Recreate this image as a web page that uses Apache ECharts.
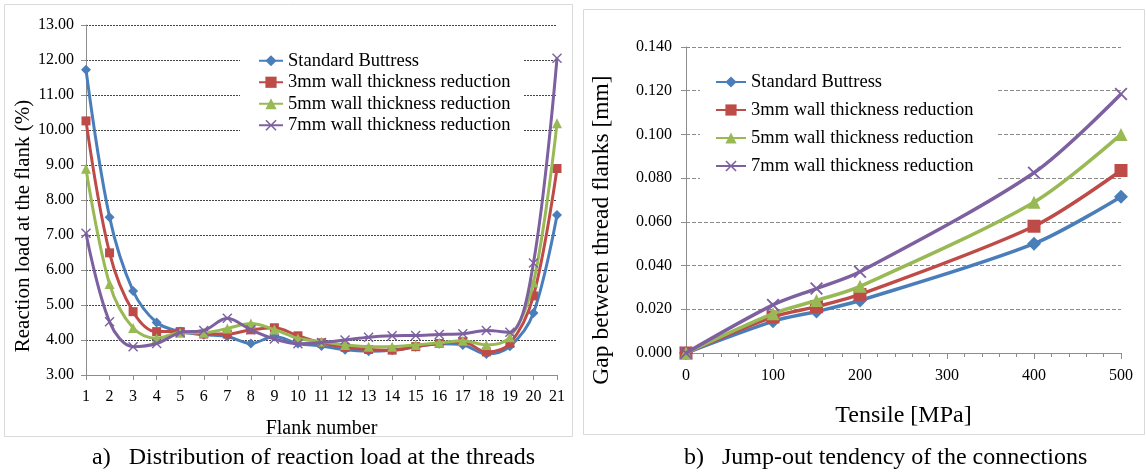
<!DOCTYPE html>
<html>
<head>
<meta charset="utf-8">
<script src="https://cdn.jsdelivr.net/npm/echarts@6/dist/echarts.min.js"></script>
<style>
  html, body { margin: 0; padding: 0; background: #fff; }
  #main { width: 1146px; height: 473px; }
</style>
</head>
<body>
<div id="main"></div>
<script>
// ---- data: a) reaction load per flank ----
var flanks = [1,2,3,4,5,6,7,8,9,10,11,12,13,14,15,16,17,18,19,20,21];
var loadStd = [11.72,7.51,5.40,4.50,4.24,4.15,4.10,3.90,4.10,3.90,3.83,3.72,3.68,3.71,3.81,3.89,3.86,3.60,3.82,4.77,7.57];
var load3mm = [10.26,6.49,4.81,4.24,4.24,4.17,4.17,4.29,4.35,4.12,3.92,3.79,3.73,3.71,3.81,3.90,3.95,3.66,3.90,5.26,8.90];
var load5mm = [8.89,5.60,4.34,4.05,4.21,4.21,4.33,4.47,4.30,4.05,3.95,3.86,3.81,3.81,3.86,3.92,3.98,3.86,4.08,5.64,10.19];
var load7mm = [7.05,4.52,3.81,3.90,4.21,4.27,4.62,4.29,4.03,3.89,3.93,4.00,4.08,4.12,4.13,4.16,4.18,4.27,4.22,6.20,12.05];

// ---- data: b) gap between thread flanks vs tensile ----
var tensile = [0,100,150,200,400,500];
var gapStd = [0,0.0145,0.0190,0.0240,0.0500,0.0715];
var gap3mm = [0,0.0165,0.0212,0.0268,0.0580,0.0835];
var gap5mm = [0,0.0180,0.0240,0.0305,0.0690,0.1000];
var gap7mm = [0,0.0220,0.0295,0.0372,0.0825,0.1185];

var seriesNames = ['Standard Buttress','3mm wall thickness reduction','5mm wall thickness reduction','7mm wall thickness reduction'];
var colors = ['#4a7ebb','#be4b48','#98b954','#7d60a0'];
var crossPath = 'path://M0,1 L1,0 L5,4 L9,0 L10,1 L6,5 L10,9 L9,10 L5,6 L1,10 L0,9 L4,5 Z';
var symbols = ['diamond','rect','triangle',crossPath];

function pairs(xs, ys) {
  return xs.map(function (x, i) { return [x, ys[i]]; });
}

var serif = 'Liberation Serif';
var axisGray = '#8c8c8c';

var chart = echarts.init(document.getElementById('main'));

var loadSets = [loadStd, load3mm, load5mm, load7mm];
var gapSets = [gapStd, gap3mm, gap5mm, gap7mm];
var series = [];
loadSets.forEach(function (d, i) {
  series.push({
    name: seriesNames[i], type: 'line', xAxisIndex: 0, yAxisIndex: 0,
    data: pairs(flanks, d), smooth: 0.35,
    symbol: symbols[i], symbolSize: i === 1 ? 9 : 10,
    lineStyle: { width: 3, color: colors[i] },
    itemStyle: { color: colors[i] },
    z: 3 + i
  });
});
gapSets.forEach(function (d, i) {
  series.push({
    name: seriesNames[i], type: 'line', xAxisIndex: 1, yAxisIndex: 1,
    data: pairs(tensile, d), smooth: 0.3,
    symbol: symbols[i], symbolSize: i === 0 ? 14 : 13,
    lineStyle: { width: 3.5, color: colors[i] },
    itemStyle: { color: colors[i] },
    z: 3 + i
  });
});

var option = {
  animation: false,
  textStyle: { fontFamily: serif, color: '#000' },
  graphic: [
    { type: 'rect', shape: { x: 4.5, y: 4.5, width: 568, height: 432 }, style: { fill: 'none', stroke: '#d9d9d9', lineWidth: 1 }, z: -1 },
    { type: 'rect', shape: { x: 583.5, y: 9.5, width: 561, height: 425 }, style: { fill: 'none', stroke: '#d9d9d9', lineWidth: 1 }, z: -1 },
    { type: 'text', left: 92, top: 446, style: { text: 'a)   Distribution of reaction load at the threads', font: '24px "Liberation Serif"', fill: '#000' } },
    { type: 'text', left: 684, top: 446, style: { text: 'b)   Jump-out tendency of the connections', font: '24px "Liberation Serif"', fill: '#000' } }
  ],
  legend: [
    {
      data: seriesNames, left: 240, top: 46, orient: 'vertical',
      padding: [4, 13, 8, 18], itemGap: 0, itemWidth: 24, itemHeight: 14,
      backgroundColor: '#fff',
      textStyle: { fontFamily: serif, fontSize: 18.5, color: '#000', lineHeight: 21.5 }
    },
    {
      data: seriesNames, left: 700, top: 62, orient: 'vertical',
      padding: [9, 24, 12, 15], itemGap: 6, itemWidth: 30, itemHeight: 14,
      backgroundColor: '#fff',
      textStyle: { fontFamily: serif, fontSize: 18.5, color: '#000', lineHeight: 22 }
    }
  ],
  grid: [
    { left: 86, right: 589, top: 25, bottom: 98 },
    { left: 686, right: 25, top: 47, bottom: 120 }
  ],
  xAxis: [
    {
      gridIndex: 0, type: 'value', min: 1, max: 21, interval: 1,
      name: 'Flank number', nameLocation: 'middle', nameGap: 44,
      nameTextStyle: { fontFamily: serif, fontSize: 20, color: '#000' },
      axisLine: { lineStyle: { color: axisGray } },
      axisTick: { length: 5, lineStyle: { color: axisGray } },
      axisLabel: { fontFamily: serif, fontSize: 16, color: '#000', margin: 14 },
      splitLine: { show: false }
    },
    {
      gridIndex: 1, type: 'value', min: 0, max: 500, interval: 100,
      name: 'Tensile [MPa]', nameLocation: 'middle', nameGap: 51,
      nameTextStyle: { fontFamily: serif, fontSize: 24, color: '#000' },
      axisLine: { lineStyle: { color: axisGray } },
      axisTick: { length: 6, lineStyle: { color: axisGray } },
      minorTick: { show: true, splitNumber: 5, length: 4, lineStyle: { color: axisGray } },
      axisLabel: { fontFamily: serif, fontSize: 16, color: '#000', margin: 15 },
      splitLine: { show: false }
    }
  ],
  yAxis: [
    {
      gridIndex: 0, type: 'value', min: 3, max: 13, interval: 1,
      name: 'Reaction load at the flank (%)', nameLocation: 'middle', nameGap: 52,
      nameTextStyle: { fontFamily: serif, fontSize: 21, color: '#000', padding: [0, 52, 0, 0] },
      axisLine: { show: true, lineStyle: { color: axisGray } },
      axisTick: { show: true, length: 5, lineStyle: { color: axisGray } },
      axisLabel: { fontFamily: serif, fontSize: 16, color: '#000', margin: 12,
        formatter: function (v) { return v.toFixed(2); } },
      splitLine: { lineStyle: { color: '#444', type: [2, 1], width: 1 } }
    },
    {
      gridIndex: 1, type: 'value', min: 0, max: 0.14, interval: 0.02,
      name: 'Gap between thread flanks [mm]', nameLocation: 'middle', nameGap: 72,
      nameTextStyle: { fontFamily: serif, fontSize: 23.5, color: '#000', padding: [0, 60, 0, 0] },
      axisLine: { show: true, lineStyle: { color: axisGray } },
      axisTick: { show: true, length: 5, lineStyle: { color: axisGray } },
      axisLabel: { fontFamily: serif, fontSize: 16, color: '#000', margin: 14,
        formatter: function (v) { return v.toFixed(3); } },
      splitLine: { lineStyle: { color: '#8a8a8a', type: [4, 2], width: 1 } }
    }
  ],
  series: series
};

chart.setOption(option);
</script>
</body>
</html>
